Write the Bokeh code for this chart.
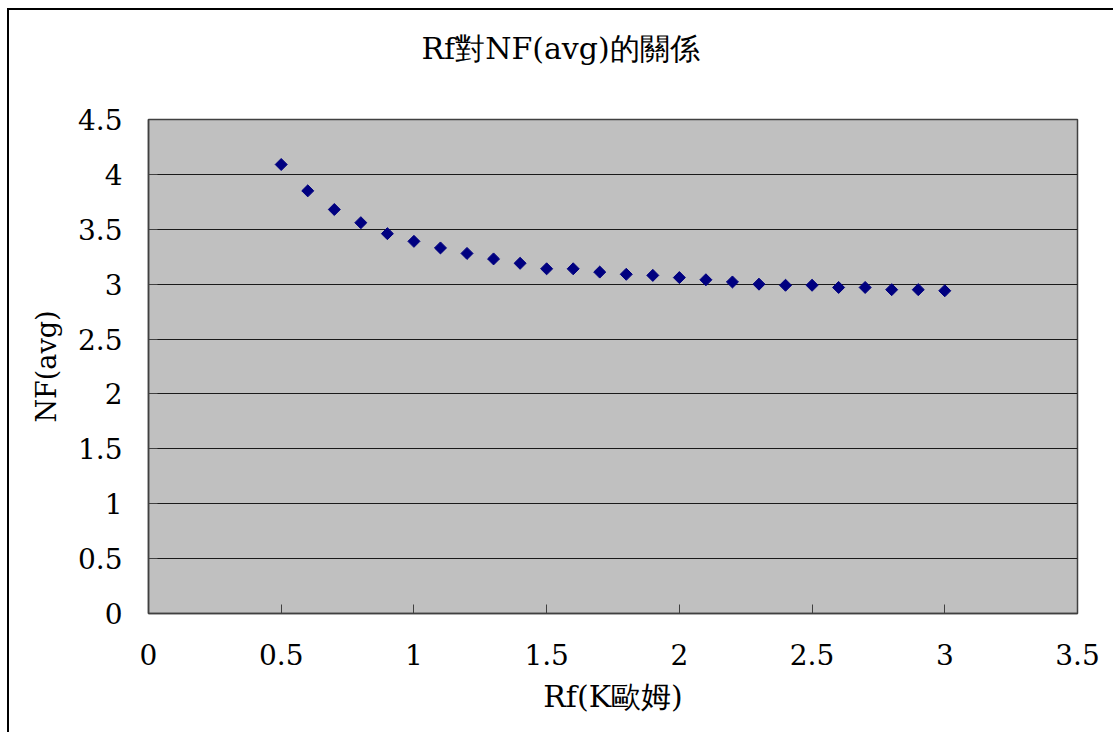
from bokeh.plotting import figure
from bokeh.embed import file_html
from bokeh.resources import INLINE
from bokeh.models import ColumnDataSource, FixedTicker, Range1d, LinearAxis
import math

title_text = "Rf對NF(avg)的關係"
x_label = "Rf(K歐姆)"
y_label = "NF(avg)"

rf = [0.5, 0.6, 0.7, 0.8, 0.9, 1.0, 1.1, 1.2, 1.3, 1.4, 1.5, 1.6, 1.7, 1.8,
      1.9, 2.0, 2.1, 2.2, 2.3, 2.4, 2.5, 2.6, 2.7, 2.8, 2.9, 3.0]
nf = [4.09, 3.85, 3.68, 3.56, 3.46, 3.39, 3.33, 3.28, 3.23, 3.19, 3.14, 3.14,
      3.11, 3.09, 3.08, 3.06, 3.04, 3.02, 3.00, 2.99, 2.99, 2.97, 2.97, 2.95,
      2.95, 2.94]

x_ticks = [0, 0.5, 1, 1.5, 2, 2.5, 3, 3.5]
y_ticks = [0, 0.5, 1, 1.5, 2, 2.5, 3, 3.5, 4, 4.5]

FONT = "DejaVu Serif"

p = figure(width=1106, height=724, output_backend="svg", toolbar_location=None,
           x_range=Range1d(0, 3.5), y_range=Range1d(0, 4.5),
           min_border_left=139, min_border_right=38, min_border_top=109,
           min_border_bottom=121)
p.margin = (8, 0, 0, 7)
p.styles = {"border-top": "2px solid #000", "border-left": "2px solid #000"}

p.background_fill_color = "#C0C0C0"
p.border_fill_color = "white"
p.outline_line_color = "#404040"
p.outline_line_width = 1.5

xa = p.below[0]
ya = p.left[0]

# invisible spacer between the frame and the title (ticks hidden, labels empty)
spacer = LinearAxis(ticker=FixedTicker(ticks=x_ticks), axis_line_color=None,
                    major_tick_line_color=None, minor_tick_line_color=None,
                    major_tick_in=0, major_tick_out=37, minor_tick_out=0,
                    minor_tick_in=0, major_label_standoff=0,
                    major_label_text_font_size="1px",
                    major_label_text_color=None,
                    major_label_overrides={t: "" for t in x_ticks},
                    axis_label=None)
p.add_layout(spacer, "above")

p.title.text = title_text
p.title.align = "left"
p.title.offset = 273
p.title.vertical_align = "top"
p.title.text_font = FONT
p.title.text_font_size = "30px"
p.title.text_font_style = "normal"
p.title.text_color = "black"
p.title.standoff = 30

src = ColumnDataSource(dict(x=rf, y=nf))
p.scatter("x", "y", source=src, marker="square", size=8.5, angle=math.pi / 4,
          fill_color="#000080", line_color="#000080")

p.xgrid.visible = False
p.ygrid.grid_line_color = "#1a1a1a"
p.ygrid.grid_line_width = 1

xa.ticker = FixedTicker(ticks=x_ticks)
ya.ticker = FixedTicker(ticks=y_ticks)
for ax in (xa, ya):
    ax.major_tick_in = 9
    ax.major_tick_out = 0
    ax.minor_tick_line_color = None
    ax.axis_line_color = "#404040"
    ax.axis_line_width = 1.5
    ax.major_tick_line_color = "#404040"
    ax.major_label_text_font = FONT
    ax.major_label_text_font_size = "28px"
    ax.major_label_text_color = "black"
    ax.axis_label_text_font = FONT
    ax.axis_label_text_font_style = "normal"
    ax.axis_label_text_color = "black"

xa.axis_label = x_label
ya.axis_label = y_label
xa.axis_label_text_font_size = "30px"
ya.axis_label_text_font_size = "27px"
xa.major_label_standoff = 30
ya.major_label_standoff = 26
xa.axis_label_standoff = 11
ya.axis_label_standoff = 13

open("out.html", "w").write(file_html(p, INLINE))
